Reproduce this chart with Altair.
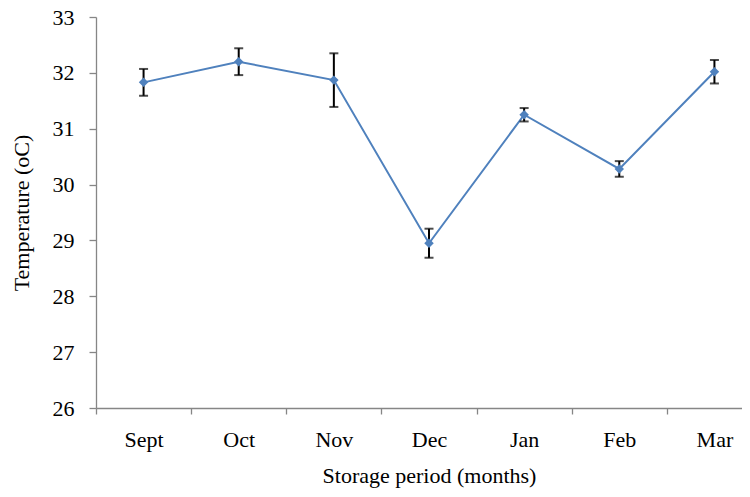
import altair as alt
import pandas as pd

months = ["Sept", "Oct", "Nov", "Dec", "Jan", "Feb", "Mar"]
temps = [31.83, 32.20, 31.87, 28.95, 31.25, 30.28, 32.02]
errs = [0.24, 0.24, 0.48, 0.26, 0.12, 0.14, 0.21]

df = pd.DataFrame({
    "month": months,
    "temp": temps,
    "lo": [t - e for t, e in zip(temps, errs)],
    "hi": [t + e for t, e in zip(temps, errs)],
})

FONT = "Liberation Serif"
AX = "#868686"

x = alt.X("month:N", sort=months,
          scale=alt.Scale(range=[0, 666], paddingInner=0, paddingOuter=0),
          axis=alt.Axis(title="Storage period (months)", labelAngle=0,
                        tickBand="extent", tickSize=6, labelPadding=15,
                        titlePadding=15))
y_scale = alt.Scale(domain=[26, 33], nice=False, zero=False)
y = alt.Y("temp:Q", scale=y_scale,
          axis=alt.Axis(title="Temperature (oC)", values=list(range(26, 34)), format="d",
                        tickSize=7, labelPadding=15, titlePadding=19, grid=False))

base = alt.Chart(df)

err = base.mark_rule(color="black", strokeWidth=2).encode(
    x=x, y=alt.Y("lo:Q", scale=y_scale), y2="hi:Q")
cap_lo = base.mark_tick(color="black", size=9, thickness=2, orient="horizontal").encode(
    x=x, y=alt.Y("lo:Q", scale=y_scale))
cap_hi = base.mark_tick(color="black", size=9, thickness=2, orient="horizontal").encode(
    x=x, y=alt.Y("hi:Q", scale=y_scale))
line = base.mark_line(color="#4F81BD", strokeWidth=2).encode(x=x, y=y)
pts = base.mark_point(shape="diamond", filled=True, color="#4F81BD", size=90, opacity=1).encode(x=x, y=y)

chart = alt.layer(line, err, cap_lo, cap_hi, pts).properties(
    width=646, height=391,
    background="white",
    autosize=alt.AutoSizeParams(type="none"),
    padding={"left": 88, "top": 9, "right": 0, "bottom": 81},
).configure_view(stroke=None).configure_axis(
    grid=False, domainColor=AX, tickColor=AX, domainWidth=1.3, tickWidth=1.3,
    labelFont=FONT, titleFont=FONT, labelFontSize=22, titleFontSize=22,
    labelColor="black", titleColor="black", titleFontWeight="normal",
)

chart.save("out.html", embed_options={"renderer": "svg", "actions": False})
